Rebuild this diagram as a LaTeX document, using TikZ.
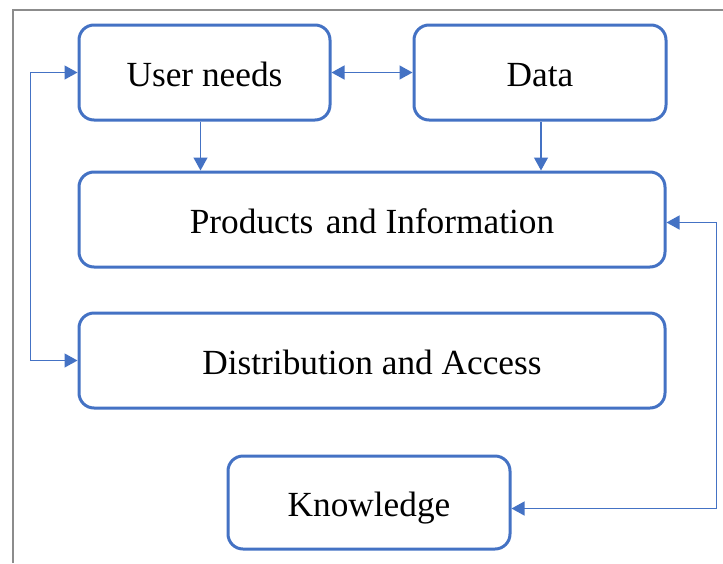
\documentclass[tikz,border=0pt]{standalone}
\usepackage{fontspec}
\setmainfont{Liberation Serif}
\usetikzlibrary{arrows.meta,calc}
\definecolor{boxblue}{HTML}{4472C4}
\definecolor{framegray}{HTML}{8C8C8C}
\tikzset{
  blk/.style={draw=boxblue, line width=3pt, rounded corners=15pt, fill=white,
    inner sep=0pt, text height=28pt, text depth=0pt, font=\fontsize{35.3}{40}\selectfont},
  conn/.style={draw=boxblue, line width=1.3pt},
  tip/.tip={Triangle[length=13pt,width=14pt]}
}
\begin{document}
\begin{tikzpicture}[x=1pt,y=-1pt]
\useasboundingbox (0,0) rectangle (723,563);
\draw[framegray, line width=1.5pt] (13,563) -- (13,10) -- (723,10);
\node[blk, minimum width=251pt, minimum height=95pt] (un) at (204.5,72.5) {User needs};
\node[blk, minimum width=252pt, minimum height=95pt] (data) at (540,72.5) {Data};
\node[blk, minimum width=586pt, minimum height=95pt] (prod) at (372,219.5) {Products\hspace{0.1em} and Information};
\node[blk, minimum width=586pt, minimum height=95pt] (dist) at (372,360.5) {Distribution and Access};
\node[blk, minimum width=282pt, minimum height=93pt] (know) at (369,502.5) {Knowledge};
\draw[conn,{tip}-{tip}] (un.east) -- (data.west);
\draw[conn,-{tip}] ([xshift=-4pt]un.south) -- ([xshift=-4pt]un.south |- prod.north);
\draw[conn,-{tip}] ([xshift=1pt]data.south) -- ([xshift=1pt]data.south |- prod.north);
\draw[conn,{tip}-{tip}] (un.west) -- ++(-47,0) |- (dist.west);
\draw[conn,{tip}-{tip}] ([yshift=-3pt]prod.east) -- ++(50,0) |- ([yshift=-6pt]know.east);
\end{tikzpicture}
\end{document}
